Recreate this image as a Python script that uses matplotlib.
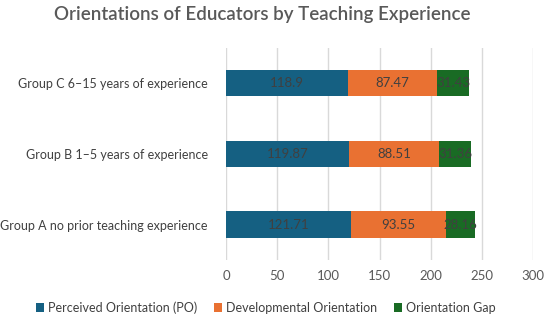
import matplotlib
matplotlib.use('Agg')
import matplotlib.pyplot as plt
import numpy as np

plt.rcParams['font.family'] = ['Lato', 'DejaVu Sans']

groups = ['Group A no prior teaching experience',
          'Group B 1–5 years of experience',
          'Group C 6–15 years of experience']
po = [121.71, 119.87, 118.9]
dev = [93.55, 88.51, 87.47]
gap = [28.16, 31.36, 31.43]
series_names = ['Perceived Orientation (PO)', 'Developmental Orientation', 'Orientation Gap']
colors = ['#156082', '#E97132', '#196B24']

fig = plt.figure(figsize=(5.5, 3.22), dpi=100)
ax = fig.add_axes([0.411, 0.193, 0.558, 0.658])

y = np.arange(len(groups))
left = np.zeros(len(groups))
for vals, name, c in zip([po, dev, gap], series_names, colors):
    bars = ax.barh(y, vals, left=left, height=0.37, color=c, label=name, zorder=3)
    ax.bar_label(bars, labels=[f'{v:g}' for v in vals], label_type='center',
                 color='#404040', fontsize=9.5)
    left += np.array(vals)

ax.set_xlim(0, 300)
ax.set_ylim(-0.5, 2.5)
ax.set_xticks(range(0, 301, 50))
ax.set_yticks(y)
ax.set_yticklabels(groups)
ax.tick_params(axis='y', length=0, pad=13, labelsize=9, labelcolor='#404040')
ax.tick_params(axis='x', length=0, pad=7, labelsize=9.5, labelcolor='#595959')
ax.grid(axis='x', color='#d9d9d9', linewidth=1, zorder=0)
for s in ax.spines.values():
    s.set_visible(False)

fig.suptitle('Orientations of Educators by Teaching Experience', x=0.476, y=0.98,
             fontsize=13.5, color='#595959', fontweight='semibold')
fig.legend(loc='center', bbox_to_anchor=(0.483, 0.045), ncol=3, frameon=False,
           fontsize=9, handlelength=0.7, handleheight=0.7, handletextpad=0.3,
           columnspacing=1.3, labelcolor='#404040')

fig.savefig('out.png', dpi=100)
